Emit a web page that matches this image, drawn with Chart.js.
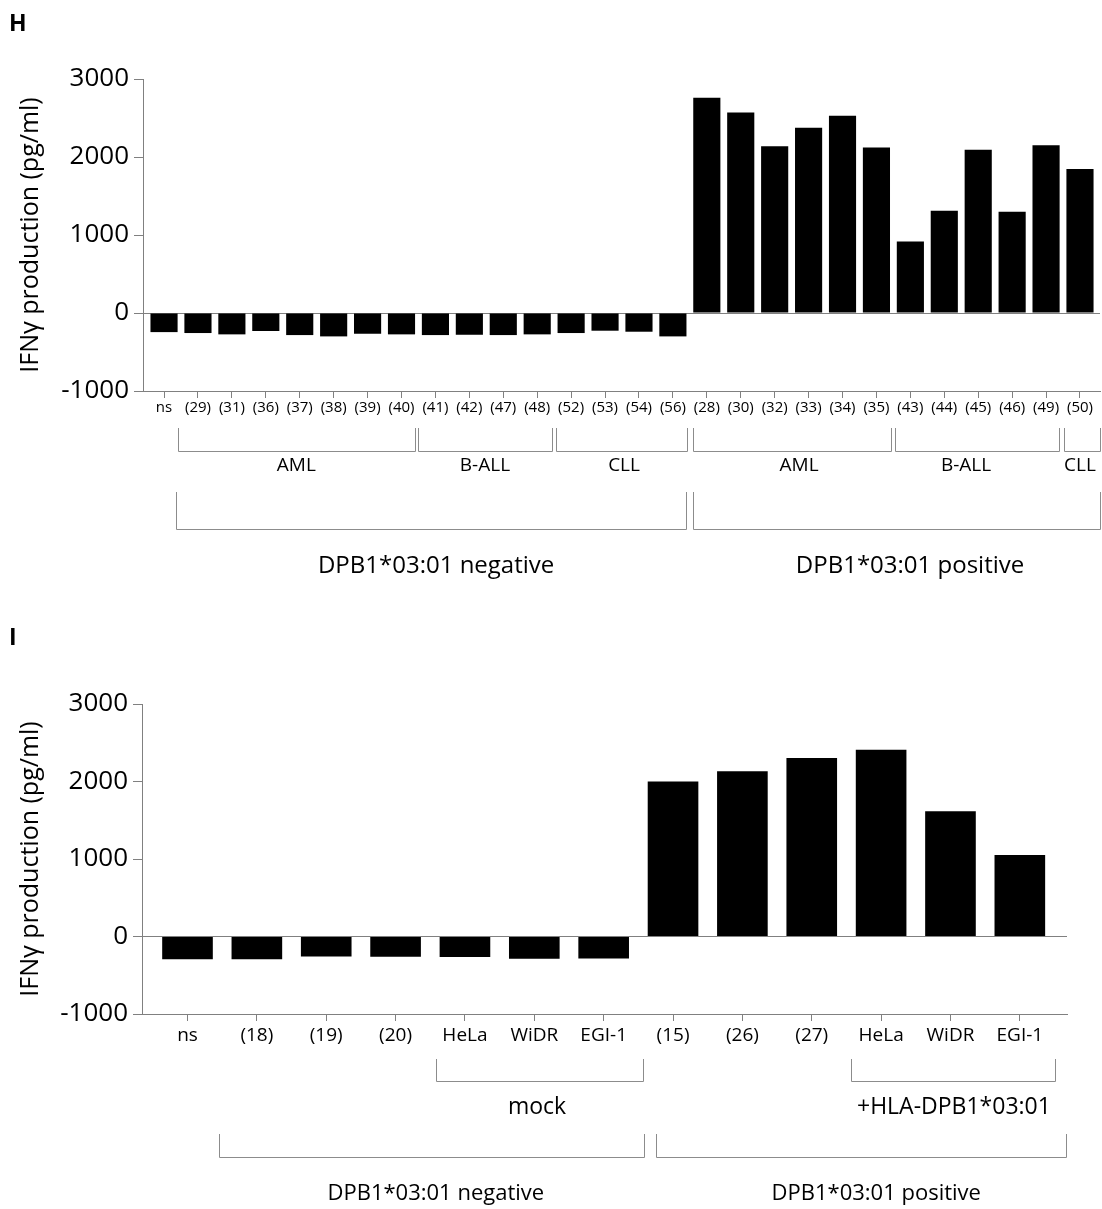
<!DOCTYPE html>
<html>
<head>
<meta charset="utf-8">
<title>IFNg production</title>
<script src="https://cdn.jsdelivr.net/npm/chart.js@4.4.0/dist/chart.umd.min.js"></script>
<style>
    html, body { margin: 0; padding: 0; background: #fff; }
    #wrap { position: relative; width: 1102px; height: 1209px; }
    .panel { position: absolute; left: 0; width: 1102px; }
</style>
</head>
<body>
<div id="wrap">
    <div class="panel" style="top:0"><canvas id="chart-h" width="1102" height="610"></canvas></div>
    <div class="panel" style="top:610px"><canvas id="chart-i" width="1102" height="599"></canvas></div>
</div>
<script>
// y axis ticks shared by both panels
const yTicks = [-1000, 0, 1000, 2000, 3000];

// panel H
const hLabels = ['ns', '(29)', '(31)', '(36)', '(37)', '(38)', '(39)', '(40)', '(41)', '(42)', '(47)', '(48)',
    '(52)', '(53)', '(54)', '(56)', '(28)', '(30)', '(32)', '(33)', '(34)', '(35)', '(43)', '(44)', '(45)', '(46)', '(49)', '(50)'];
const hValues = [-245, -257, -274, -231, -283, -300, -266, -274, -283, -279, -283, -274,
    -257, -227, -240, -300, 2760, 2571, 2139, 2374, 2529, 2122, 917, 1311, 2092, 1299, 2152, 1847];
// brackets under the axis, in category units
const hSubgroups = [
    { label: 'AML', from: 0.41, to: 7.40, at: 3.9 },
    { label: 'B-ALL', from: 7.49, to: 11.45, at: 9.46 },
    { label: 'CLL', from: 11.56, to: 15.43, at: 13.56 },
    { label: 'AML', from: 15.58, to: 21.42, at: 18.72 },
    { label: 'B-ALL', from: 21.56, to: 26.37, at: 23.64 },
    { label: 'CLL', from: 26.52, to: 27.59, at: 27.0 }
];
const hGroups = [
    { label: 'DPB1*03:01 negative', from: 0.35, to: 15.40, at: 8.02 },
    { label: 'DPB1*03:01 positive', from: 15.60, to: 27.59, at: 21.99 }
];

// panel I
const iLabels = ['ns', '(18)', '(19)', '(20)', 'HeLa', 'WiDR', 'EGI-1', '(15)', '(26)', '(27)', 'HeLa', 'WiDR', 'EGI-1'];
const iValues = [-292, -292, -257, -262, -266, -288, -283, 1999, 2132, 2304, 2411, 1617, 1051];
const iSubgroups = [
    { label: 'mock', from: 3.58, to: 6.56, at: 5.04 },
    { label: '+HLA-DPB1*03:01', from: 9.56, to: 12.5, at: 11.05 }
];
const iGroups = [
    { label: 'DPB1*03:01 negative', from: 0.45, to: 6.58, at: 3.58 },
    { label: 'DPB1*03:01 positive', from: 6.75, to: 12.66, at: 9.93 }
];

Chart.defaults.font.family = "'Open Sans', sans-serif";
Chart.defaults.color = '#000';

const AXIS_GREY = '#808080';
const BRACKET_GREY = '#8c8c8c';

// draws the ⊔ brackets with their labels and the panel letter
const bracketPlugin = {
    id: 'brackets',
    afterDraw(chart, args, opts) {
        const ctx = chart.ctx;
        const xs = chart.scales.x;
        ctx.save();
        ctx.strokeStyle = BRACKET_GREY;
        ctx.lineWidth = 1;
        ctx.textAlign = 'center';
        ctx.textBaseline = 'middle';
        ctx.fillStyle = '#000';
        opts.rows.forEach(row => {
            ctx.font = row.fontSize + "px 'Open Sans', sans-serif";
            row.items.forEach(b => {
                const x1 = Math.round(xs.getPixelForValue(b.from)) + 0.5;
                const x2 = Math.round(xs.getPixelForValue(b.to)) + 0.5;
                ctx.beginPath();
                ctx.moveTo(x1, row.top);
                ctx.lineTo(x1, row.bottom + 0.5);
                ctx.lineTo(x2, row.bottom + 0.5);
                ctx.lineTo(x2, row.top);
                ctx.stroke();
                ctx.fillText(b.label, xs.getPixelForValue(b.at), row.textY);
            });
        });
        ctx.textAlign = 'left';
        ctx.textBaseline = 'alphabetic';
        ctx.font = "bold 23px 'Open Sans', sans-serif";
        ctx.fillText(opts.letter, 9, opts.letterY);
        ctx.restore();
    }
};

function buildPanel(canvasId, labels, values, cfg) {
    const cvs = document.getElementById(canvasId);
    return new Chart(cvs, {
        type: 'bar',
        data: {
            datasets: [{
                data: values.map((v, i) => ({ x: i, y: v })),
                backgroundColor: '#000',
                borderWidth: 0,
                barPercentage: cfg.barPct,
                categoryPercentage: 1
            }]
        },
        plugins: [bracketPlugin],
        options: {
            responsive: false,
            animation: false,
            layout: { padding: { top: cfg.top, right: cfg.right, left: 0, bottom: 0 } },
            plugins: {
                legend: { display: false },
                tooltip: { enabled: false },
                brackets: { rows: cfg.rows, letter: cfg.letter, letterY: cfg.letterY }
            },
            scales: {
                x: {
                    type: 'linear',
                    min: cfg.xMin,
                    max: cfg.xMax,
                    offset: false,
                    afterBuildTicks: s => { s.ticks = labels.map((_, i) => ({ value: i })); },
                    afterFit: s => { s.height = cfg.xHeight; },
                    ticks: {
                        autoSkip: false,
                        maxRotation: 0,
                        padding: cfg.xPad,
                        font: { size: cfg.xFont },
                        color: '#000',
                        callback: v => labels[v] ?? ''
                    },
                    grid: { offset: false, drawOnChartArea: false, color: AXIS_GREY, tickColor: AXIS_GREY, tickLength: 7 },
                    border: { color: AXIS_GREY }
                },
                y: {
                    min: yTicks[0],
                    max: yTicks[yTicks.length - 1],
                    afterBuildTicks: s => { s.ticks = yTicks.map(v => ({ value: v })); },
                    afterFit: s => { s.width = cfg.yWidth; },
                    ticks: { padding: 5, font: { size: 26 }, color: '#000', callback: v => String(v) },
                    grid: {
                        color: c => (c.tick && c.tick.value === 0) ? AXIS_GREY : 'rgba(0,0,0,0)',
                        tickColor: AXIS_GREY,
                        tickLength: 9
                    },
                    border: { color: AXIS_GREY },
                    title: {
                        display: true,
                        text: 'IFNγ production (pg/ml)',
                        font: { size: 25 },
                        padding: { top: 16, bottom: 0 },
                        color: '#000'
                    }
                }
            }
        }
    });
}

document.addEventListener('DOMContentLoaded', () => {
    buildPanel('chart-h', hLabels, hValues, {
        top: 79, right: 2, yWidth: 143, xHeight: 219,
        xMin: -0.62, xMax: 27.59, barPct: 0.8, xFont: 15, xPad: 1,
        letter: 'H', letterY: 31,
        rows: [
            { top: 428, bottom: 451, textY: 466, fontSize: 19, items: hSubgroups },
            { top: 492, bottom: 529, textY: 566, fontSize: 24, items: hGroups }
        ]
    });
    buildPanel('chart-i', iLabels, iValues, {
        top: 94, right: 35, yWidth: 142, xHeight: 195,
        xMin: -0.656, xMax: 12.68, barPct: 0.73, xFont: 19, xPad: 3,
        letter: 'I', letterY: 35,
        rows: [
            { top: 449, bottom: 471, textY: 497, fontSize: 23, items: iSubgroups },
            { top: 524, bottom: 547, textY: 584, fontSize: 22, items: iGroups }
        ]
    });
});
</script>
</body>
</html>
